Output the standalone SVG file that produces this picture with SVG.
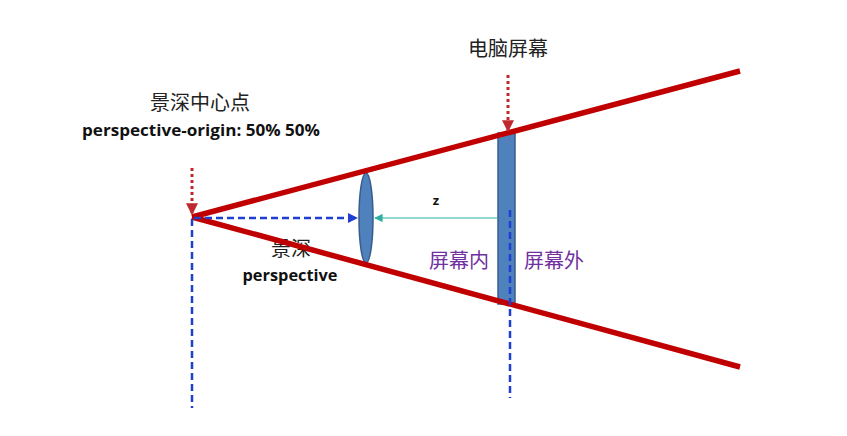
<svg xmlns="http://www.w3.org/2000/svg" width="847" height="436" viewBox="0 0 847 436">
<defs>
<style>
.cjk{font-family:"Noto Sans CJK SC","Liberation Sans",sans-serif;font-size:20px;fill:#222;text-anchor:middle}
.pur{fill:#7030a0}
.bold{font-family:"Open Sans","Liberation Sans",sans-serif;font-weight:bold;font-size:16.5px;fill:#111;text-anchor:middle}
.red{stroke:#c00000;stroke-width:5.5;fill:none;stroke-linecap:butt}
.reddot{stroke:#c0282d;stroke-width:3;stroke-dasharray:3 3;fill:none}
.bluedash{stroke:#1f3fd0;stroke-width:2.5;stroke-dasharray:7 4;fill:none}
.teal{stroke:#2ab0a0;stroke-width:1.2;fill:none}
.shape{fill:#4f81bd;stroke:#385d8a;stroke-width:1.5}
</style>
<marker id="mRed" viewBox="0 0 10 10" refX="9" refY="5" markerWidth="4" markerHeight="4" orient="auto" markerUnits="strokeWidth"><path d="M0,0L10,5L0,10z" fill="#c0282d"/></marker>
<marker id="mBlue" viewBox="0 0 10 10" refX="9" refY="5" markerWidth="4" markerHeight="4" orient="auto" markerUnits="strokeWidth"><path d="M0,0L10,5L0,10z" fill="#1f3fd0"/></marker>
<marker id="mTeal" viewBox="0 0 10 10" refX="9" refY="5" markerWidth="7" markerHeight="7" orient="auto" markerUnits="strokeWidth"><path d="M0,0L10,5L0,10z" fill="#2ab0a0"/></marker>
</defs>
<rect width="847" height="436" fill="#fff"/>
<g id="origin-label">
<text class="cjk" x="200" y="110">景深中心点</text>
<text class="bold" x="201" y="136" textLength="238" lengthAdjust="spacingAndGlyphs">perspective-origin: 50% 50%</text>
</g>
<g id="screen-label">
<text class="cjk" x="508" y="56">电脑屏幕</text>
</g>
<g id="perspective-label">
<text class="cjk" x="291" y="256" fill="#555">景深</text>
<text class="bold" x="290" y="281" textLength="95" lengthAdjust="spacingAndGlyphs">perspective</text>
</g>
<g id="z-label">
<text class="bold" x="436" y="205" style="font-size:13px">z</text>
</g>
<g id="inside-label">
<text class="cjk pur" x="459" y="268">屏幕内</text>
</g>
<g id="outside-label">
<text class="cjk pur" x="554" y="268">屏幕外</text>
</g>
<g id="screen">
<rect class="shape" x="498" y="133" width="17" height="171"/>
</g>
<g id="lens">
<ellipse class="shape" cx="366" cy="218" rx="7" ry="45"/>
</g>
<g id="connectors">
<path class="red" d="M192,217L740,71"/>
<path class="red" d="M192,217L740,367"/>
<path class="reddot" d="M192,168L192,214" marker-end="url(#mRed)"/>
<path class="reddot" d="M508,75L508,131" marker-end="url(#mRed)"/>
<path class="bluedash" d="M192,219L192,408"/>
<path class="bluedash" d="M194,218L357,218" marker-end="url(#mBlue)"/>
<path class="teal" d="M498,218L375,218" marker-end="url(#mTeal)"/>
<path class="bluedash" d="M510,210L510,398"/>
</g>
</svg>
